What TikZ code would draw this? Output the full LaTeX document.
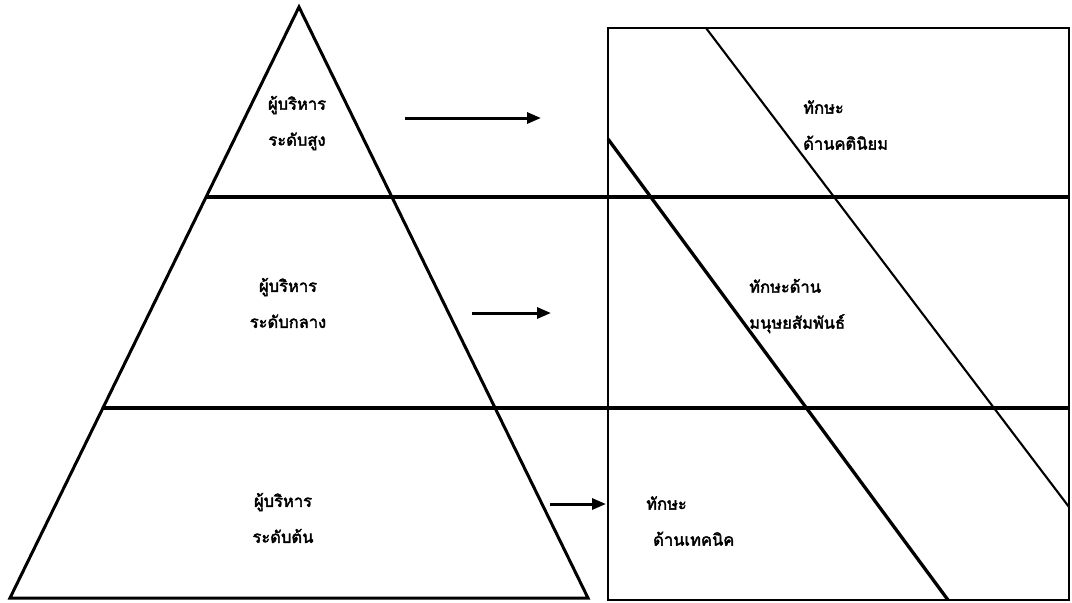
\documentclass[tikz,border=0pt]{standalone}
\usepackage{fontspec}
\newfontfamily\thaifont[Script=Thai, AutoFakeBold=2.5]{Loma}
\usetikzlibrary{arrows.meta, positioning}
\tikzset{
  lbl/.style={
    font=\thaifont\bfseries\fontsize{16.5}{36}\selectfont,
    inner sep=0pt, align=#1
  },
  lbl/.default=center,
  edge/.style={line width=3pt, line join=miter},
  band/.style={line width=3.4pt},
  frame/.style={line width=2.5pt},
  thin/.style={line width=2.1pt},
  thick/.style={line width=3.3pt},
  arr/.style={-{Triangle[length=14pt,width=11pt]}, line width=3pt},
}
\begin{document}
\begin{tikzpicture}[x=1pt, y=-1pt]
\useasboundingbox (0,0) rectangle (1072,603);

% pyramid of management levels
\coordinate (apex) at (299,7);
\coordinate (bl) at (10,598);
\coordinate (br) at (588,598);
\draw[edge] (apex) -- (bl) -- (br) -- cycle;

% skills frame
\coordinate (fTL) at (608,28);
\coordinate (fBR) at (1069,600);
\draw[frame] (fTL) rectangle (fBR);

% level bands, running through pyramid and frame
\draw[band] (206,197) -- (1069,197);
\draw[band] (103,408) -- (1069,408);

% skill dividers
\draw[thin] (706,28) -- (1069,507);
\draw[thick] (608,139) -- (948,600);

% labels of the levels
\node[lbl] at (297,123) (top) {ผู้บริหาร\\ระดับสูง};
\node[lbl] at (288,303) (mid) {ผู้บริหาร\\ระดับกลาง};
\node[lbl] at (283,518) (low) {ผู้บริหาร\\ระดับต้น};

% labels of the skills
\node[lbl=left, anchor=west] at (803,125) (concept) {ทักษะ\\ด้านคตินิยม};
\node[lbl=left, anchor=west] at (749,306) (human) {ทักษะด้าน\\มนุษยสัมพันธ์};
\node[lbl=left, anchor=west] at (646,521) (tech) {ทักษะ\\\hspace{7pt}ด้านเทคนิค};

% arrows from level to skill
\coordinate (a1s) at (405,118);
\coordinate (a1e) at (541,118);
\coordinate (a2s) at (472,313);
\coordinate (a2e) at (551,313);
\coordinate (a3s) at (550,504);
\coordinate (a3e) at (606,504);
\draw[arr] (a1s) -- (a1e);
\draw[arr] (a2s) -- (a2e);
\draw[arr] (a3s) -- (a3e);

\end{tikzpicture}
\end{document}
